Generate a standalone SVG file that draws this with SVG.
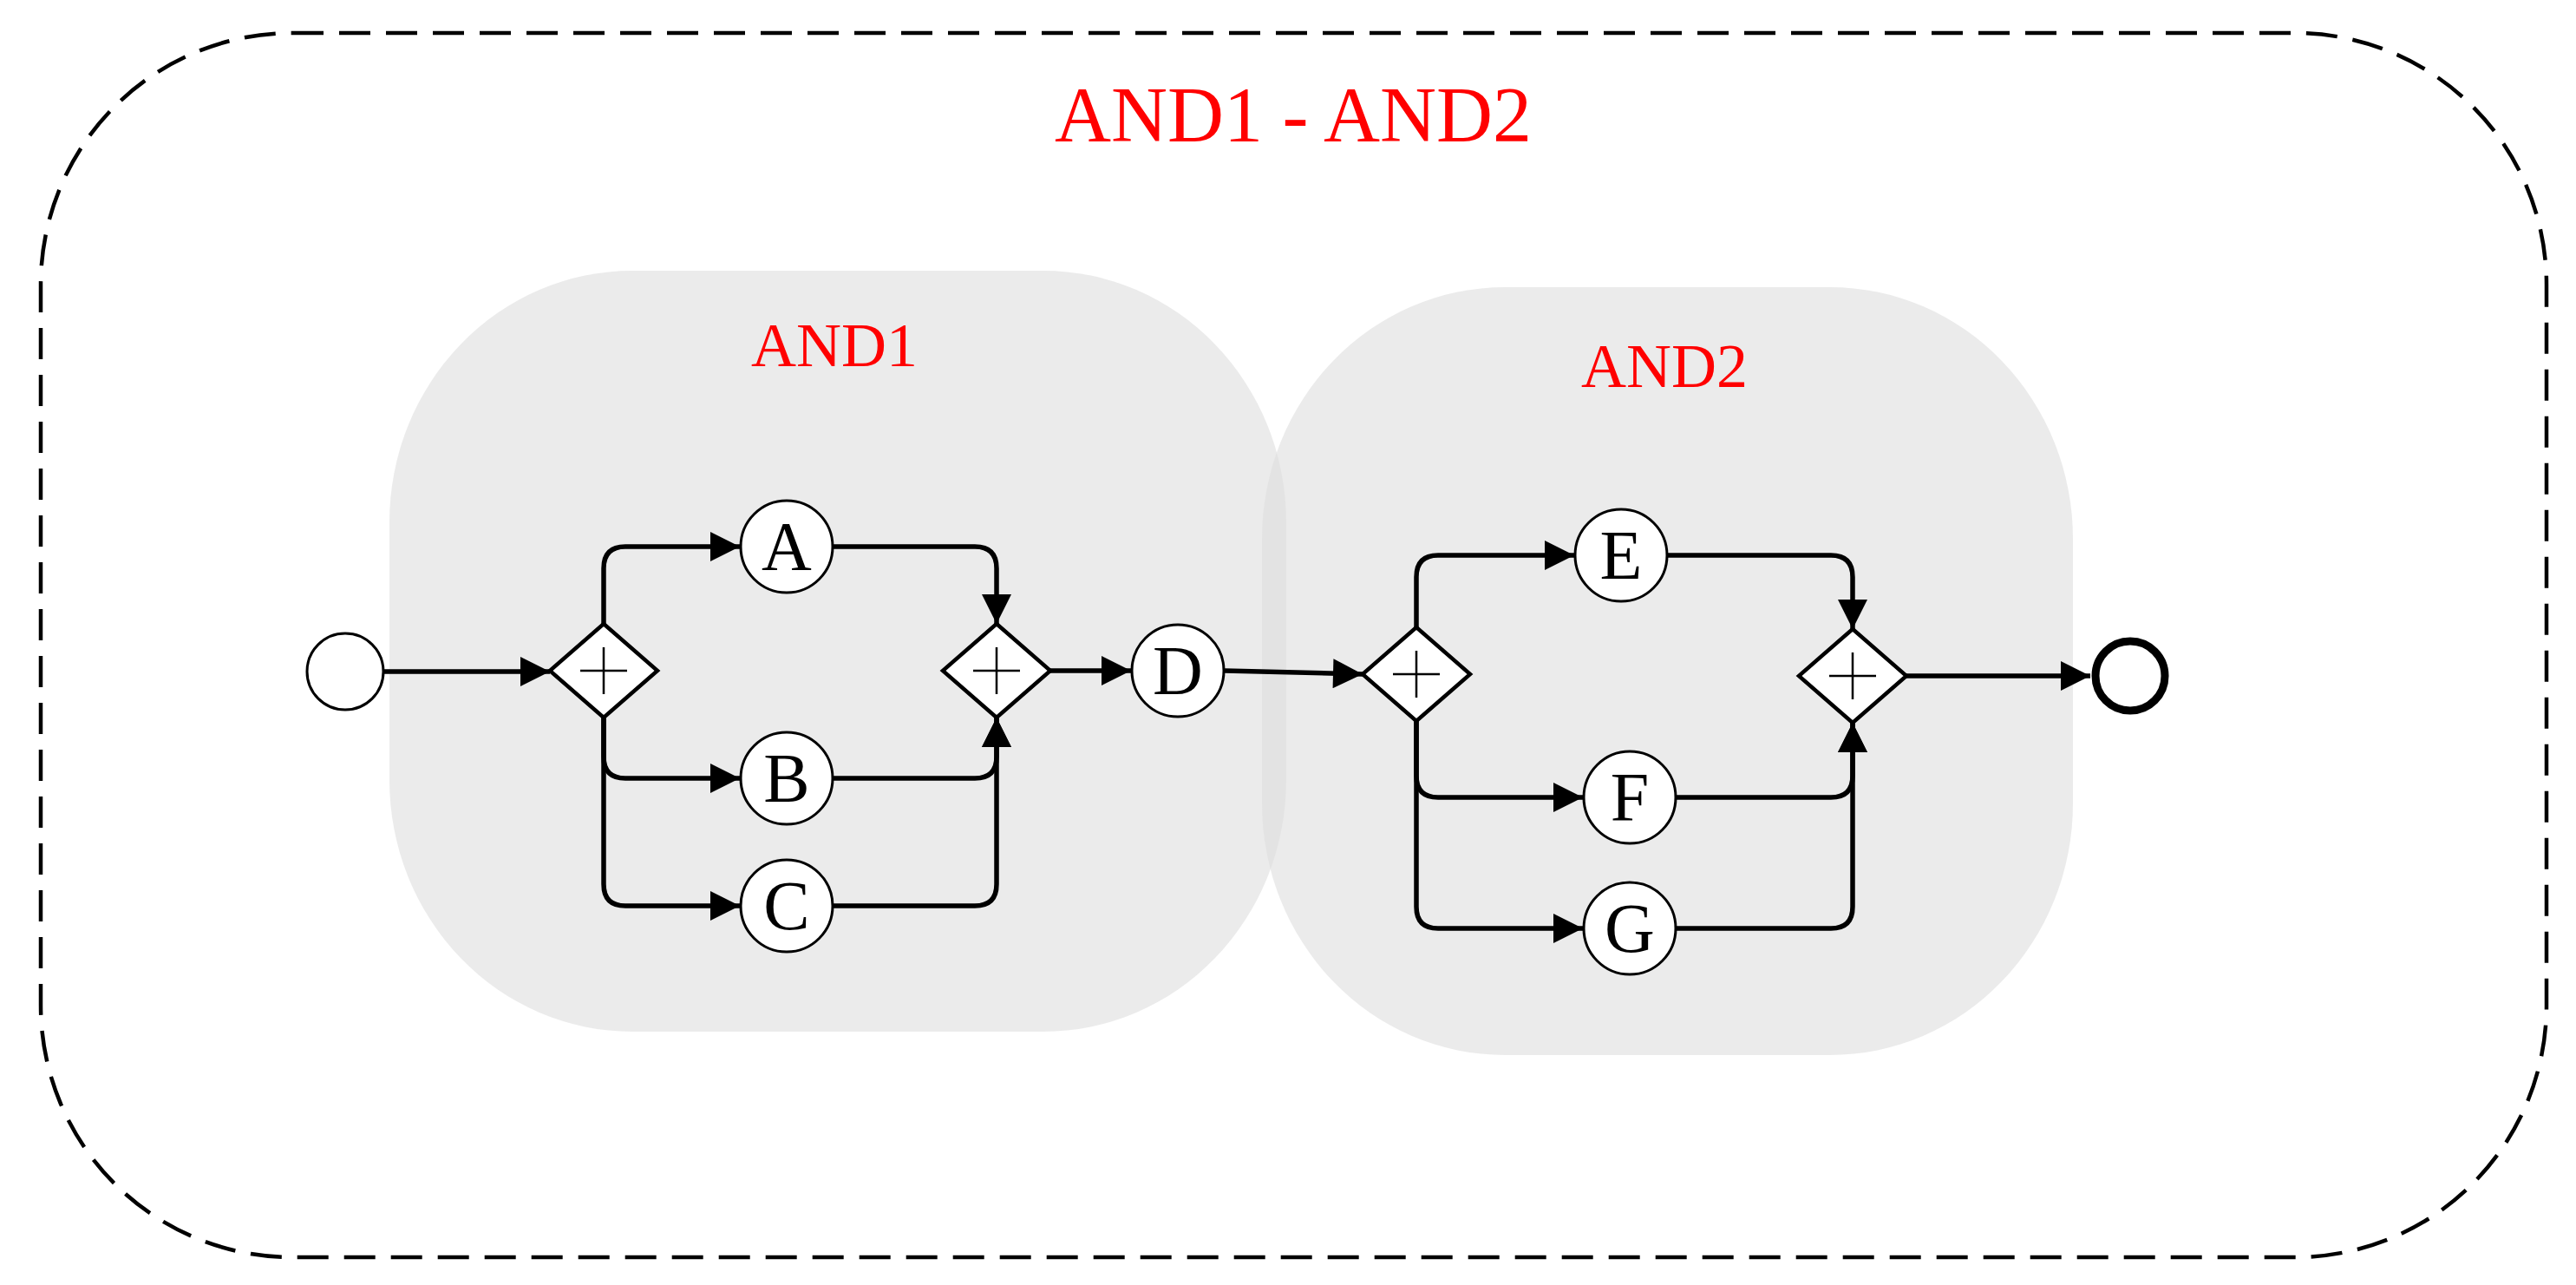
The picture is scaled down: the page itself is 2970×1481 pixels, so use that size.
<svg xmlns="http://www.w3.org/2000/svg" width="2970" height="1481" viewBox="0 0 2970 1481">
<defs>
<style>
.reg{fill:#dedede;fill-opacity:0.62;stroke:none}
.node{fill:#fff;stroke:#000;stroke-width:3}
.gw{fill:#fff;stroke:#000;stroke-width:4.5}
.plus{stroke:#000;stroke-width:2.5;fill:none}
.lbl{font-family:"Liberation Serif",serif;font-size:80px;text-anchor:middle;fill:#000}
.red{font-family:"Liberation Serif",serif;fill:#ff0000;text-anchor:middle}
.edge{fill:none;stroke:#000;stroke-width:5.5;marker-end:url(#ah)}
</style>
<marker id="ah" viewBox="0 0 10 10" refX="10" refY="5" markerUnits="userSpaceOnUse" markerWidth="36" markerHeight="34" orient="auto"><path d="M0,0 L10,5 L0,10 z" fill="#000"/></marker>
</defs>
<rect x="47" y="38" width="2889" height="1411" rx="290" ry="290" fill="none" stroke="#000" stroke-width="4.5" stroke-dasharray="36 18"/>
<text class="red" x="1491" y="163" font-size="90">AND1 - AND2</text>
<g id="AND1"><rect class="reg" x="449" y="312" width="1034" height="877" rx="280" ry="290"/><text class="red" x="962" y="422" font-size="72">AND1</text></g>
<g id="AND2"><rect class="reg" x="1455" y="331" width="935" height="885" rx="280" ry="290"/><text class="red" x="1919" y="446" font-size="72">AND2</text></g>
<g id="connectors">
<path class="edge" d="M442,774 H634"/>
<path class="edge" d="M696,719 V655 Q696,630 721,630 H853"/>
<path class="edge" d="M696,827 V872 Q696,897 721,897 H853"/>
<path class="edge" d="M696,827 V1019 Q696,1044 721,1044 H853"/>
<path class="edge" d="M961,630 H1124 Q1149,630 1149,655 V719"/>
<path class="edge" d="M961,897 H1124 Q1149,897 1149,872 V827"/>
<path class="edge" d="M961,1044 H1124 Q1149,1044 1149,1019 V827"/>
<path class="edge" d="M1211,773 H1304"/>
<path class="edge" d="M1412,773 L1571,777"/>
<path class="edge" d="M1633,723 V665 Q1633,640 1658,640 H1815"/>
<path class="edge" d="M1633,831 V894 Q1633,919 1658,919 H1825"/>
<path class="edge" d="M1633,831 V1045 Q1633,1070 1658,1070 H1825"/>
<path class="edge" d="M1923,640 H2111 Q2136,640 2136,665 V725"/>
<path class="edge" d="M1933,919 H2111 Q2136,919 2136,894 V833"/>
<path class="edge" d="M1933,1070 H2111 Q2136,1070 2136,1045 V833"/>
<path class="edge" d="M2198,779 H2410"/>
</g>
<g id="start"><circle class="node" cx="398" cy="774" r="44"/></g>
<g id="split1"><path class="gw" d="M696,719 L758,773 L696,827 L634,773 z"/><path class="plus" d="M696,746 V800 M669,773 H723"/></g>
<g id="A"><circle class="node" cx="907" cy="630" r="53"/><text class="lbl" x="907" y="657">A</text></g>
<g id="B"><circle class="node" cx="907" cy="897" r="53"/><text class="lbl" x="907" y="924">B</text></g>
<g id="C"><circle class="node" cx="907" cy="1044" r="53"/><text class="lbl" x="907" y="1071">C</text></g>
<g id="join1"><path class="gw" d="M1149,719 L1211,773 L1149,827 L1087,773 z"/><path class="plus" d="M1149,746 V800 M1122,773 H1176"/></g>
<g id="D"><circle class="node" cx="1358" cy="773" r="53"/><text class="lbl" x="1358" y="800">D</text></g>
<g id="split2"><path class="gw" d="M1633,723 L1695,777 L1633,831 L1571,777 z"/><path class="plus" d="M1633,750 V804 M1606,777 H1660"/></g>
<g id="E"><circle class="node" cx="1869" cy="640" r="53"/><text class="lbl" x="1869" y="667">E</text></g>
<g id="F"><circle class="node" cx="1879" cy="919" r="53"/><text class="lbl" x="1879" y="946">F</text></g>
<g id="G"><circle class="node" cx="1879" cy="1070" r="53"/><text class="lbl" x="1879" y="1097">G</text></g>
<g id="join2"><path class="gw" d="M2136,725 L2198,779 L2136,833 L2074,779 z"/><path class="plus" d="M2136,752 V806 M2109,779 H2163"/></g>
<g id="end"><circle cx="2456" cy="779" r="40" fill="#fff" stroke="#000" stroke-width="9"/></g>
</svg>
